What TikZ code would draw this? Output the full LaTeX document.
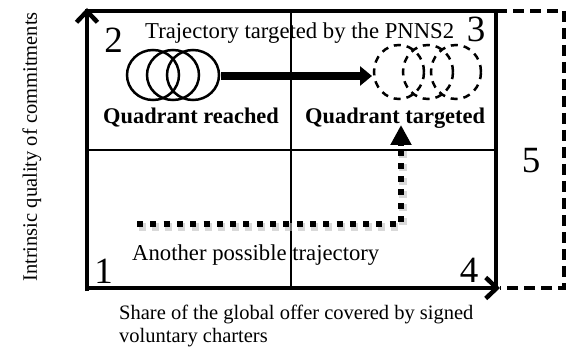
\documentclass[tikz,border=0pt]{standalone}
\usepackage{fontspec}
\setmainfont{Liberation Serif}
\usetikzlibrary{arrows.meta,shapes.geometric}
\begin{document}
\begin{tikzpicture}[x=1pt,y=-1pt,
  thickline/.style={line width=4.5pt, line join=miter, line cap=rect},
  thinline/.style={line width=2pt},
  axisarrow/.style={line width=4.5pt, -{Straight Barb[length=11pt,width=21pt]}},
  dashbox/.style={line width=4pt, dash pattern=on 11pt off 6pt},
  solidcirc/.style={draw, ellipse, line width=2.5pt, minimum width=52pt, minimum height=50pt, inner sep=0pt},
  dashcirc/.style={draw, ellipse, line width=2.5pt, dash pattern=on 7pt off 6pt, minimum width=50pt, minimum height=54pt, inner sep=0pt},
  bigarrow/.style={line width=8pt, -{Triangle[length=12pt,width=19pt]}},
  dotline/.style={line width=6pt, dash pattern=on 6pt off 7.3pt},
  dotshadow/.style={line width=8pt, dash pattern=on 7pt off 6.3pt, black!25, opacity=0.6},
  dotarrow/.style={line width=6pt, -{Triangle[length=20pt,width=20pt]}},
  bignum/.style={font=\fontsize{37}{40}\selectfont, inner sep=0pt, anchor=base},
  txt/.style={font=\fontsize{22.7}{26}\selectfont, inner sep=0pt, anchor=base west},
  boldtxt/.style={font=\fontsize{22.4}{26}\selectfont\bfseries, inner sep=0pt, anchor=base west},
  axtxt/.style={font=\fontsize{20.5}{24}\selectfont, inner sep=0pt}
]
\useasboundingbox (0,0) rectangle (566,353);
% frame coordinates
\coordinate (TL) at (87,11);
\coordinate (TR) at (496,11);
\coordinate (BR) at (496,288);
\coordinate (BL) at (87,291);
\coordinate (ML) at (87,150);
\coordinate (MR) at (496,150);
\coordinate (MT) at (291,11);
\coordinate (MB) at (291,288);
\coordinate (Ytip) at (87,8);
\coordinate (Xst) at (85,288);
\coordinate (Xtip) at (500,288);
\coordinate (DTR) at (564,11);
\coordinate (DBR) at (564,288);
% grid
\draw[thinline] (MT) -- (MB);
\draw[thinline] (ML) -- (MR);
% frame
\draw[thickline] (TL) -- (TR) -- (BR);
\draw[dashbox] (TR) -- (DTR) -- (DBR) -- (Xtip);
\draw[axisarrow] (BL) -- (Ytip);
\draw[axisarrow] (Xst) -- (Xtip);
% numbers
\node[bignum] (n2) at (113.5,53) {2};
\node[bignum] (n3) at (476,42) {3};
\node[bignum] (n1) at (103.5,283) {1};
\node[bignum] (n4) at (469,282) {4};
\node[bignum] (n5) at (531,172) {5};
% texts
\node[txt] (traj) at (145,39) {Trajectory targeted by the PNNS2};
\node[boldtxt] (qr) at (103,124) {Quadrant reached};
\node[boldtxt] (qt) at (305,124) {Quadrant targeted};
\node[txt] (another) at (132,260) {Another possible trajectory};
% circles
\node[solidcirc] (s1) at (153,75) {};
\node[solidcirc] (s2) at (173,75) {};
\node[solidcirc] (s3) at (193,75) {};
\node[dashcirc] (d1) at (399,72) {};
\node[dashcirc] (d2) at (428,72) {};
\node[dashcirc] (d3) at (456,72) {};
\draw[bigarrow, shorten <=1pt] (s3.east |- 0,76) -- (372,76) coordinate (atip);
% dotted trajectory
\coordinate (p0) at (137,224);
\coordinate (p1) at (401,224);
\coordinate (p2) at (401,146);
\coordinate (p3) at (401,125);
\draw[dotshadow] ([shift={(1.5,2.5)}]p0) -- ([shift={(1.5,2.5)}]p1) -- ([shift={(1.5,2.5)}]p2);
\draw[dotline] (p0) -- (p1) -- (p2);
\draw[dotarrow] (p2) -- (p3);
% axis labels
\node[axtxt, rotate=90, anchor=base] (ylab) at (37,147) {Intrinsic quality of commitments};
\node[axtxt, anchor=base west] (xlab1) at (119,319) {Share of the global offer covered by signed};
\node[axtxt, anchor=base west] (xlab2) at (119,342) {voluntary charters};
\end{tikzpicture}
\end{document}
